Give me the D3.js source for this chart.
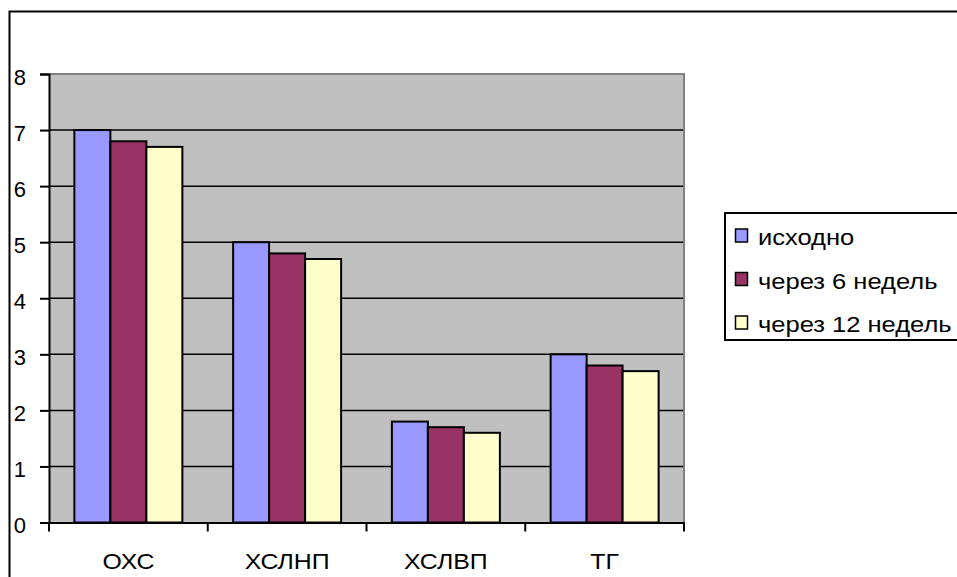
<!DOCTYPE html>
<html><head><meta charset="utf-8">
<script src="https://cdn.jsdelivr.net/npm/d3@7"></script>
<style>html,body{margin:0;padding:0;background:#fff;}svg{display:block;}</style>
</head><body>
<svg id="c" width="957" height="577"></svg>
<script>
const categories = ["ОХС", "ХСЛНП", "ХСЛВП", "ТГ"];
const seriesNames = ["исходно", "через 6 недель", "через 12 недель"];
const valuesBaseline = [7, 5, 1.8, 3];
const values6w = [6.8, 4.8, 1.7, 2.8];
const values12w = [6.7, 4.7, 1.6, 2.7];
const yTicks = [0, 1, 2, 3, 4, 5, 6, 7, 8];
const colors = ["#9999FF", "#993366", "#FFFFCC"];

const series = [valuesBaseline, values6w, values12w];
const svg = d3.select("#c");
const font = "Liberation Sans, Arial, sans-serif";

// outer chart border
svg.append("rect").attr("x", 9.5).attr("y", 11.5).attr("width", 1000).attr("height", 700)
  .attr("fill", "#fff").attr("stroke", "#000").attr("stroke-width", 2);

const L = 49, R = 684, T = 74, B = 522.5;
const x = d3.scaleBand().domain(categories).range([L, R]).paddingInner(0).paddingOuter(0);
const y = d3.scaleLinear().domain([0, 8]).range([B, T]);

svg.append("rect").attr("x", L).attr("y", T).attr("width", R - L).attr("height", B - T).attr("fill", "#C0C0C0");

// gridlines
svg.append("g").selectAll("line").data(yTicks.filter(d => d > 0 && d < 8)).join("line")
  .attr("x1", L).attr("x2", R).attr("y1", d => y(d)).attr("y2", d => y(d))
  .attr("stroke", "#000").attr("stroke-width", 1.5);

// plot border top/right gray
svg.append("path").attr("d", `M${L},${T}H${R}V${B}`).attr("fill", "none").attr("stroke", "#808080").attr("stroke-width", 2);

// bars: gap width 141% of bar width
const gapRatio = 1.41;
const bw = x.bandwidth() / (3 + gapRatio);
const gap = bw * gapRatio;
series.forEach((vals, si) => {
  svg.append("g").selectAll("rect").data(vals).join("rect")
    .attr("x", (d, i) => x(categories[i]) + gap / 2 + si * bw)
    .attr("width", bw)
    .attr("y", d => y(d))
    .attr("height", d => y(0) - y(d))
    .attr("fill", colors[si])
    .attr("stroke", "#000").attr("stroke-width", 2);
});

// y axis
const yAxis = d3.axisLeft(y).tickValues(yTicks).tickSize(9).tickPadding(14).tickFormat(d3.format("d"));
const ga = svg.append("g").attr("transform", `translate(${L},0)`).call(yAxis);
ga.select(".domain").attr("stroke", "#000").attr("stroke-width", 2);
ga.selectAll(".tick line").attr("stroke", "#000").attr("stroke-width", 2);
ga.selectAll("text").attr("font-family", font).attr("font-size", 22).attr("fill", "#000")
  .attr("dy", null).attr("y", 10).attr("text-anchor", "end");

// x axis
const xAxis = d3.axisBottom(x).tickSize(0).tickPadding(0);
const gx = svg.append("g").attr("transform", `translate(0,${B})`).call(xAxis);
gx.select(".domain").attr("stroke", "#000").attr("stroke-width", 2);
gx.selectAll(".tick text").attr("font-family", font).attr("font-size", 22).attr("fill", "#000")
  .attr("dy", null).attr("y", 0).attr("transform", "translate(0,46.5) scale(1.13,1)");
gx.selectAll(".btick").data(categories.map(c => x(c)).concat([R])).join("line").attr("class", "btick")
  .attr("x1", d => d).attr("x2", d => d).attr("y1", 0).attr("y2", 9).attr("stroke", "#000").attr("stroke-width", 2);

// legend
const lg = svg.append("g");
lg.append("rect").attr("x", 725).attr("y", 213).attr("width", 300).attr("height", 127)
  .attr("fill", "#fff").attr("stroke", "#000").attr("stroke-width", 2);
const rows = lg.selectAll("g.item").data(seriesNames).join("g").attr("class", "item")
  .attr("transform", (d, i) => `translate(735,${245 + i * 43.5})`);
rows.append("rect").attr("x", 0.5).attr("y", -16).attr("width", 12).attr("height", 13)
  .attr("fill", (d, i) => colors[i]).attr("stroke", "#000").attr("stroke-width", 1.5);
rows.append("text").attr("transform", "translate(23,0) scale(1.16,1)").text(d => d)
  .attr("font-family", font).attr("font-size", 22).attr("fill", "#000");
</script>
</body></html>
